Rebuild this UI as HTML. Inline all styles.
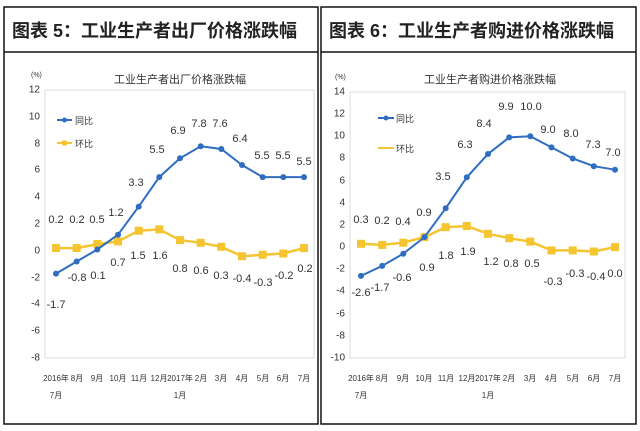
<!DOCTYPE html>
<html><head><meta charset="utf-8"><style>
body{margin:0;background:#fff;width:640px;height:431px;overflow:hidden}
svg{display:block}
text{font-family:"Liberation Sans","Noto Sans CJK SC",sans-serif;fill:#333}
.t{font-size:18px;fill:#222;font-weight:bold}
.l{font-size:11px;text-anchor:middle;dominant-baseline:middle}
.a{font-size:10px;text-anchor:end;dominant-baseline:middle}
.c{font-size:8px;text-anchor:middle}
</style></head><body>
<svg width="640" height="431" viewBox="0 0 640 431">
<rect width="640" height="431" fill="#fff"/>
<rect x="4" y="7" width="314" height="417" fill="none" stroke="#111" stroke-width="1.5"/>
<line x1="4" y1="52" x2="318" y2="52" stroke="#111" stroke-width="1.5"/>
<rect x="321" y="7" width="315" height="417" fill="none" stroke="#111" stroke-width="1.5"/>
<line x1="321" y1="52" x2="636" y2="52" stroke="#111" stroke-width="1.5"/>
<text class="t" x="12" y="37">图表 5：工业生产者出厂价格涨跌幅</text>
<text class="t" x="329" y="37">图表 6：工业生产者购进价格涨跌幅</text>

<rect x="45" y="90" width="269" height="268" fill="none" stroke="#ddd"/>
<text x="180" y="83" style="font-size:11px;text-anchor:middle">工业生产者出厂价格涨跌幅</text>
<text x="31" y="77" style="font-size:7px">(%)</text>
<g class="a">
<text x="40" y="90">12</text><text x="40" y="117">10</text><text x="40" y="144">8</text><text x="40" y="170">6</text><text x="40" y="197">4</text><text x="40" y="224">2</text><text x="40" y="251">0</text><text x="40" y="278">-2</text><text x="40" y="304">-4</text><text x="40" y="331">-6</text><text x="40" y="358">-8</text>
</g>
<line x1="57" y1="120" x2="72" y2="120" stroke="#2e6dc0" stroke-width="2"/><circle cx="64.5" cy="120" r="2.5" fill="#2e6dc0"/>
<text x="75" y="124" style="font-size:9px">同比</text>
<line x1="57" y1="143" x2="72" y2="143" stroke="#f5c431" stroke-width="2"/><rect x="62" y="140.5" width="5" height="5" fill="#f5c431"/>
<text x="75" y="147" style="font-size:9px">环比</text>
<polyline fill="none" stroke="#f5c431" stroke-width="2.5" points="56,248.1 76.7,248.1 97.3,244.1 118,241.4 138.7,230.7 159.3,229.4 180,240.1 200.7,242.8 221.3,246.8 242,256.2 262.7,254.8 283.3,253.5 304,248.1"/>
<g fill="#f5c431">
<rect x="52" y="244" width="8" height="8"/><rect x="72.7" y="244" width="8" height="8"/><rect x="93.3" y="240" width="8" height="8"/><rect x="114" y="237.4" width="8" height="8"/><rect x="134.7" y="226.7" width="8" height="8"/><rect x="155.3" y="225.4" width="8" height="8"/><rect x="176" y="236.1" width="8" height="8"/><rect x="196.7" y="238.8" width="8" height="8"/><rect x="217.3" y="242.8" width="8" height="8"/><rect x="238" y="252.2" width="8" height="8"/><rect x="258.7" y="250.8" width="8" height="8"/><rect x="279.3" y="249.5" width="8" height="8"/><rect x="300" y="244.1" width="8" height="8"/>
</g>
<polyline fill="none" stroke="#2e6dc0" stroke-width="2" points="56,273.6 76.7,261.5 97.3,249.5 118,234.7 138.7,206.6 159.3,177.1 180,158.3 200.7,146.3 221.3,149 242,165 262.7,177.1 283.3,177.1 304,177.1"/>
<g fill="#2e6dc0">
<circle cx="56" cy="273.6" r="3"/><circle cx="76.7" cy="261.5" r="3"/><circle cx="97.3" cy="249.5" r="3"/><circle cx="118" cy="234.7" r="3"/><circle cx="138.7" cy="206.6" r="3"/><circle cx="159.3" cy="177.1" r="3"/><circle cx="180" cy="158.3" r="3"/><circle cx="200.7" cy="146.3" r="3"/><circle cx="221.3" cy="149" r="3"/><circle cx="242" cy="165" r="3"/><circle cx="262.7" cy="177.1" r="3"/><circle cx="283.3" cy="177.1" r="3"/><circle cx="304" cy="177.1" r="3"/>
</g>
<g class="l">
<text x="56" y="220">0.2</text><text x="77" y="220">0.2</text><text x="97" y="220">0.5</text><text x="116" y="213">1.2</text><text x="136" y="183">3.3</text><text x="157" y="150">5.5</text><text x="178" y="131">6.9</text><text x="199" y="124">7.8</text><text x="220" y="124">7.6</text><text x="240" y="139">6.4</text><text x="262" y="156">5.5</text><text x="283" y="156">5.5</text><text x="304" y="162">5.5</text>
<text x="56" y="305">-1.7</text><text x="77" y="278">-0.8</text><text x="98" y="276">0.1</text><text x="118" y="263">0.7</text><text x="138" y="256">1.5</text><text x="160" y="256">1.6</text><text x="180" y="269">0.8</text><text x="201" y="271">0.6</text><text x="221" y="276">0.3</text><text x="242" y="279">-0.4</text><text x="263" y="283">-0.3</text><text x="284" y="276">-0.2</text><text x="305" y="269">0.2</text>
</g>
<g class="c">
<text x="56" y="381">2016年</text><text x="56" y="398">7月</text><text x="77" y="381">8月</text><text x="97" y="381">9月</text><text x="118" y="381">10月</text><text x="139" y="381">11月</text><text x="159" y="381">12月</text><text x="180" y="381">2017年</text><text x="180" y="398">1月</text><text x="201" y="381">2月</text><text x="221" y="381">3月</text><text x="242" y="381">4月</text><text x="263" y="381">5月</text><text x="283" y="381">6月</text><text x="304" y="381">7月</text>
</g>

<rect x="350" y="92" width="275" height="266" fill="none" stroke="#ddd"/>
<text x="490" y="83" style="font-size:11px;text-anchor:middle">工业生产者购进价格涨跌幅</text>
<text x="335" y="79" style="font-size:7px">(%)</text>
<g class="a">
<text x="345" y="92">14</text><text x="345" y="114">12</text><text x="345" y="136">10</text><text x="345" y="158">8</text><text x="345" y="181">6</text><text x="345" y="203">4</text><text x="345" y="225">2</text><text x="345" y="247">0</text><text x="345" y="269">-2</text><text x="345" y="291">-4</text><text x="345" y="314">-6</text><text x="345" y="336">-8</text><text x="345" y="358">-10</text>
</g>
<line x1="378" y1="118" x2="394" y2="118" stroke="#2e6dc0" stroke-width="2"/><circle cx="386" cy="118" r="2.5" fill="#2e6dc0"/>
<text x="396" y="122" style="font-size:9px">同比</text>
<line x1="378" y1="148" x2="394" y2="148" stroke="#f5c431" stroke-width="2"/>
<text x="396" y="152" style="font-size:9px">环比</text>
<polyline fill="none" stroke="#f5c431" stroke-width="2.5" points="361,243.8 382.2,244.9 403.3,242.7 424.5,237.1 445.7,227.2 466.8,226 488,233.8 509.2,238.2 530.3,241.6 551.5,250.4 572.7,250.4 593.8,251.5 615,247.1"/>
<g fill="#f5c431">
<rect x="357" y="239.8" width="8" height="8"/><rect x="378.2" y="240.9" width="8" height="8"/><rect x="399.3" y="238.7" width="8" height="8"/><rect x="420.5" y="233.1" width="8" height="8"/><rect x="441.7" y="223.2" width="8" height="8"/><rect x="462.8" y="222" width="8" height="8"/><rect x="484" y="229.8" width="8" height="8"/><rect x="505.2" y="234.2" width="8" height="8"/><rect x="526.3" y="237.6" width="8" height="8"/><rect x="547.5" y="246.4" width="8" height="8"/><rect x="568.7" y="246.4" width="8" height="8"/><rect x="589.8" y="247.5" width="8" height="8"/><rect x="611" y="243.1" width="8" height="8"/>
</g>
<polyline fill="none" stroke="#2e6dc0" stroke-width="2" points="361,275.9 382.2,265.9 403.3,253.7 424.5,237.1 445.7,208.3 466.8,177.3 488,154 509.2,137.4 530.3,136.3 551.5,147.4 572.7,158.5 593.8,166.2 615,169.7"/>
<g fill="#2e6dc0">
<circle cx="361" cy="275.9" r="3"/><circle cx="382.2" cy="265.9" r="3"/><circle cx="403.3" cy="253.7" r="3"/><circle cx="424.5" cy="237.1" r="3"/><circle cx="445.7" cy="208.3" r="3"/><circle cx="466.8" cy="177.3" r="3"/><circle cx="488" cy="154" r="3"/><circle cx="509.2" cy="137.4" r="3"/><circle cx="530.3" cy="136.3" r="3"/><circle cx="551.5" cy="147.4" r="3"/><circle cx="572.7" cy="158.5" r="3"/><circle cx="593.8" cy="166.2" r="3"/><circle cx="615" cy="169.7" r="3"/>
</g>
<g class="l">
<text x="361" y="220">0.3</text><text x="382" y="221">0.2</text><text x="403" y="222">0.4</text><text x="424" y="213">0.9</text><text x="443" y="177">3.5</text><text x="465" y="145">6.3</text><text x="484" y="124">8.4</text><text x="506" y="107">9.9</text><text x="531" y="107">10.0</text><text x="548" y="130">9.0</text><text x="571" y="134">8.0</text><text x="593" y="145">7.3</text><text x="613" y="153">7.0</text>
<text x="361" y="293">-2.6</text><text x="380" y="288">-1.7</text><text x="402" y="278">-0.6</text><text x="427" y="268">0.9</text><text x="446" y="256">1.8</text><text x="468" y="252">1.9</text><text x="491" y="262">1.2</text><text x="511" y="264">0.8</text><text x="532" y="264">0.5</text><text x="553" y="282">-0.3</text><text x="575" y="274">-0.3</text><text x="596" y="277">-0.4</text><text x="615" y="274">0.0</text>
</g>
<g class="c">
<text x="361" y="381">2016年</text><text x="361" y="398">7月</text><text x="382" y="381">8月</text><text x="403" y="381">9月</text><text x="424" y="381">10月</text><text x="446" y="381">11月</text><text x="467" y="381">12月</text><text x="488" y="381">2017年</text><text x="488" y="398">1月</text><text x="509" y="381">2月</text><text x="530" y="381">3月</text><text x="551" y="381">4月</text><text x="573" y="381">5月</text><text x="594" y="381">6月</text><text x="615" y="381">7月</text>
</g>
</svg>
</body></html>
